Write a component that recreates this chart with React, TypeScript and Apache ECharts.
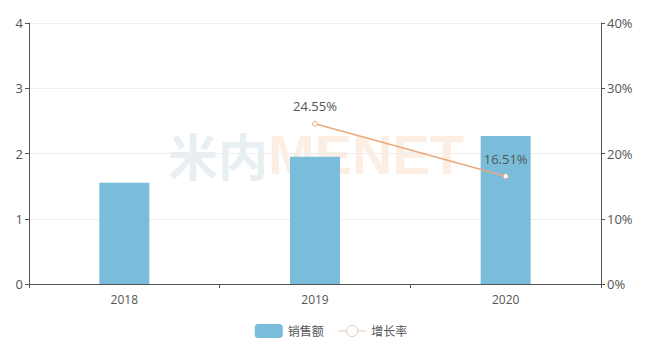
import React, { useEffect, useRef } from "react";
import * as echarts from "echarts";

const categories = ["2018", "2019", "2020"];
const salesValues = [1.55, 1.95, 2.27];
const growthValues: (number | null)[] = [null, 24.55, 16.51];
const leftTicks = [0, 1, 2, 3, 4];
const rightTicks = [0, 10, 20, 30, 40];

export default function App() {
  const ref = useRef<HTMLDivElement>(null);
  useEffect(() => {
    if (!ref.current) return;
    const chart = echarts.init(ref.current, null, { renderer: "svg" });
    const font = "'Open Sans', 'Noto Sans CJK SC', sans-serif";
    chart.setOption({
      animation: false,
      textStyle: { fontFamily: font },
      graphic: [
        {
          type: "text",
          left: 168,
          top: 126,
          z: 0,
          silent: true,
          style: {
            text: "{a|米内}{b|MENET}",
            rich: {
              a: { fontSize: 50, fontWeight: "bold", fill: "#e8eff3", fontFamily: "'Noto Sans CJK SC', sans-serif" },
              b: { fontSize: 56, fontWeight: "bold", fill: "#fdeee3", fontFamily: "'Liberation Sans', sans-serif" },
            },
          },
        },
      ],
      legend: {
        bottom: 8,
        left: "center",
        itemWidth: 28,
        itemHeight: 14,
        itemGap: 14,
        textStyle: { color: "#555", fontSize: 12 },
        data: [
          { name: "销售额", icon: "roundRect" },
          {
            name: "增长率",
            itemStyle: { color: "#fff", borderColor: "#e9c9a6", borderWidth: 1 },
            lineStyle: { color: "#e9c9a6", width: 1 },
          },
        ],
      },
      grid: { left: 29, right: 61, top: 23, bottom: 67, containLabel: false },
      xAxis: {
        type: "category",
        data: categories,
        axisLine: { lineStyle: { color: "#555" } },
        axisTick: { show: true, lineStyle: { color: "#555" }, length: 4 },
        axisLabel: { color: "#555", fontSize: 12, margin: 9 },
      },
      yAxis: [
        {
          type: "value",
          min: leftTicks[0],
          max: leftTicks[leftTicks.length - 1],
          interval: 1,
          axisLine: { show: true, lineStyle: { color: "#555" } },
          axisTick: { show: true, lineStyle: { color: "#555" }, length: 4 },
          axisLabel: { color: "#555", fontSize: 13, margin: 6 },
          splitLine: { lineStyle: { color: "#eeeeee" } },
        },
        {
          type: "value",
          min: rightTicks[0],
          max: rightTicks[rightTicks.length - 1],
          interval: 10,
          position: "right",
          axisLine: { show: true, lineStyle: { color: "#555" } },
          axisTick: { show: true, lineStyle: { color: "#555" }, length: 4 },
          axisLabel: { color: "#555", fontSize: 13, margin: 6, formatter: "{value}%" },
          splitLine: { show: false },
        },
      ],
      series: [
        {
          name: "销售额",
          type: "bar",
          data: salesValues,
          barWidth: 50,
          itemStyle: { color: "#79bddb" },
          z: 2,
        },
        {
          name: "增长率",
          type: "line",
          yAxisIndex: 1,
          data: growthValues,
          symbol: "circle",
          symbolSize: 5,
          lineStyle: { color: "#eba97d", width: 1.5 },
          itemStyle: { color: "#fff", borderColor: "#eba97d", borderWidth: 1 },
          label: {
            show: true,
            position: "top",
            distance: 8,
            color: "#555",
            fontSize: 13,
            formatter: (p: any) => p.value + "%",
          },
          z: 3,
        },
      ],
    });
    return () => chart.dispose();
  }, []);
  return <div ref={ref} style={{ width: 662, height: 351, position: "absolute", left: 0, top: 0 }} />;
}
